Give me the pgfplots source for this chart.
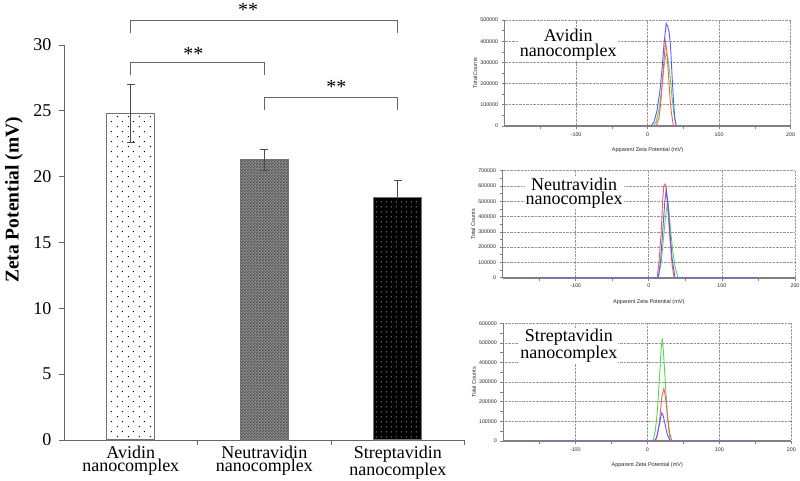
\documentclass[border=0pt]{standalone}
\usepackage{pgfplots}
\pgfplotsset{compat=1.18}
\usepackage{fontspec}
\setmainfont{Liberation Serif}
\newfontfamily\arial{Liberation Sans}
\usetikzlibrary{patterns}

\pgfdeclarepatternformonly{sparsedots}{\pgfqpoint{0pt}{0pt}}{\pgfqpoint{10.4pt}{10.4pt}}{\pgfqpoint{10.4pt}{10.4pt}}{%
 \pgfpathrectangle{\pgfqpoint{2pt}{2pt}}{\pgfqpoint{1.1pt}{1.1pt}}%
 \pgfpathrectangle{\pgfqpoint{7.2pt}{7.2pt}}{\pgfqpoint{1.1pt}{1.1pt}}%
 \pgfusepath{fill}}
\pgfdeclarepatternformonly{densedots}{\pgfqpoint{0pt}{0pt}}{\pgfqpoint{5.2pt}{5.2pt}}{\pgfqpoint{5.2pt}{5.2pt}}{%
 \pgfpathrectangle{\pgfqpoint{2pt}{2pt}}{\pgfqpoint{1.1pt}{1.1pt}}\pgfusepath{fill}}
\pgfdeclarepatternformonly{finecheck}{\pgfqpoint{0pt}{0pt}}{\pgfqpoint{2.8pt}{2.8pt}}{\pgfqpoint{2.8pt}{2.8pt}}{%
 \pgfpathrectangle{\pgfqpoint{0pt}{0pt}}{\pgfqpoint{1.4pt}{1.4pt}}%
 \pgfpathrectangle{\pgfqpoint{1.4pt}{1.4pt}}{\pgfqpoint{1.4pt}{1.4pt}}\pgfusepath{fill}}

\definecolor{cblue}{RGB}{90,90,255}
\definecolor{cred}{RGB}{255,90,90}
\definecolor{cgreen}{RGB}{80,220,80}
\definecolor{axgray}{RGB}{128,128,128}

\tikzset{inset/.style={font=\fontsize{18}{14.5}\selectfont, align=center, fill=white, inner sep=1pt}}

\pgfplotsset{
 small/.style={
  scale only axis, anchor=south west,
  xmin=-200, xmax=200, ymin=0,
  axis x line*=bottom, axis y line*=left,
  x axis line style={axgray, line width=1.6pt},
  y axis line style={axgray, line width=0.8pt},
  xtick={-100,0,100,200}, minor xtick={-150,-50,50,150},
  xmajorgrids, ymajorgrids,
  major grid style={densely dotted, gray!80, line width=0.6pt},
  tick style={axgray, line width=0.6pt},
  major tick length=3pt, minor tick length=3pt,
  tick align=outside,
  minor y tick num=1,
  ticklabel style={font=\arial\fontsize{5.3}{6}\selectfont, text=black!85},
  /pgf/number format/assume math mode=true,
  /pgf/number format/1000 sep={},
  scaled y ticks=false,
  yticklabel style={/pgf/number format/fixed},
  xlabel={Apparent Zeta Potential (mV)}, ylabel={Total Counts},
  label style={font=\arial\fontsize{5.5}{6}\selectfont, text=black!85},
  xlabel style={at={(axis description cs:0.5,0)}, yshift=-24pt, anchor=center},
  every axis plot/.append style={line width=0.9pt, mark=none},
 },
}

\begin{document}
\begin{tikzpicture}
\path[use as bounding box] (0pt,0pt) rectangle (800pt,480pt);

% ---------------- main bar chart ----------------
\begin{axis}[
 at={(64pt,40pt)}, anchor=south west, scale only axis,
 width=400.5pt, height=395pt,
 xmin=-0.5, xmax=2.5, ymin=0, ymax=30,
 axis x line*=bottom, axis y line*=left,
 axis line style={black!60, line width=0.8pt},
 tick style={black!60, line width=0.8pt},
 major tick length=5pt, tick align=outside,
 ytick={0,5,...,30},
 xtick={0.5,1.5,2.5}, xticklabels={},
 extra x ticks={0,1,2},
 extra x tick labels={{Avidin\\nanocomplex},{Neutravidin\\nanocomplex},{Streptavidin\\nanocomplex}},
 extra x tick style={major tick length=0pt},
 x tick label style={align=center, font=\fontsize{18}{13}\selectfont, yshift=-2pt},
 y tick label style={font=\fontsize{18}{18}\selectfont, xshift=-4pt},
 /pgf/number format/assume math mode=true,
 ylabel={Zeta Potential (mV)},
 ylabel style={font=\bfseries\fontsize{19.5}{20}\selectfont, at={(axis description cs:-0.1248,0.6076)}, anchor=center},
 clip=false,
]
% error bar of the black bar first (hidden behind it, as in the reference)
\addplot[draw=none, forget plot,
 error bars/.cd, y dir=both, y explicit,
 error bar style={black!70, line width=0.9pt},
 error mark options={rotate=90, black!70, mark size=4pt, line width=0.9pt}]
 table[x=x, y=y, y error=e] {
x y e
2 18.4 1.35
};
\addplot[ybar, bar width=48pt, bar shift=0pt, draw=black!55, line width=1.1pt,
 fill=white, postaction={pattern=sparsedots, pattern color=black}]
 table[x=x, y=y] {
x y
0 24.8
};
\addplot[ybar, bar width=48pt, bar shift=0pt, draw=black!55, line width=1.1pt,
 fill=black!42, postaction={pattern=finecheck, pattern color=black!72}]
 table[x=x, y=y] {
x y
1 21.3
};
\addplot[ybar, bar width=48pt, bar shift=0pt, draw=black!55, line width=1.1pt,
 fill=black, postaction={pattern=densedots, pattern color=white!85!black}]
 table[x=x, y=y] {
x y
2 18.4
};
\addplot[draw=none, forget plot,
 error bars/.cd, y dir=both, y explicit,
 error bar style={black!70, line width=0.9pt},
 error mark options={rotate=90, black!70, mark size=4pt, line width=0.9pt}]
 table[x=x, y=y, y error=e] {
x y e
0 24.8 2.2
1 21.3 0.8
};
% significance brackets
\draw[black!60, line width=0.8pt] (axis cs:0,27.7) -- (axis cs:0,28.7) -- (axis cs:1,28.7) -- (axis cs:1,27.7);
\draw[black!60, line width=0.8pt] (axis cs:1,25.06) -- (axis cs:1,26.02) -- (axis cs:2,26.02) -- (axis cs:2,25.06);
\draw[black!60, line width=0.8pt] (axis cs:0,30.88) -- (axis cs:0,31.84) -- (axis cs:2,31.84) -- (axis cs:2,30.88);
\node[anchor=base, font=\fontsize{20}{20}\selectfont, inner sep=0pt] at (axis cs:0.47,28.85) {**};
\node[anchor=base, font=\fontsize{20}{20}\selectfont, inner sep=0pt] at (axis cs:1.54,26.3) {**};
\node[anchor=base, font=\fontsize{20}{20}\selectfont, inner sep=0pt] at (axis cs:0.88,32.15) {**};
\end{axis}

% ---------------- inset 1: Avidin ----------------
\begin{axis}[small, at={(504.6pt,354pt)}, width=286pt, height=106pt,
 ymax=500000, ytick={0,100000,...,500000},
 ylabel style={at={(axis description cs:-0.103,0.5)}, anchor=center}]
\addplot[cgreen] coordinates {(-150,0)(8,0)(12,20000)(16,80000)(20,180000)(23,280000)(26,343000)(28,330000)(31,250000)(34,140000)(37,50000)(40,0)(150,0)};
\addplot[cred] coordinates {(-150,0)(12,0)(16,40000)(19,130000)(22,270000)(25,398000)(27,350000)(29,250000)(31,150000)(33,70000)(36,0)(150,0)};
\addplot[cblue] coordinates {(-150,0)(5,0)(9,20000)(13,70000)(17,160000)(20,260000)(23,390000)(26,484000)(28,470000)(30,445000)(32,380000)(34,250000)(36,130000)(38,40000)(40,0)(150,0)};
\node[inset] at (axis cs:-111,383000) {Avidin\\nanocomplex};
\end{axis}

% ---------------- inset 2: Neutravidin ----------------
\begin{axis}[small, at={(502.5pt,202.3pt)}, width=292.5pt, height=107pt,
 ymax=700000, ytick={0,100000,...,700000},
 ylabel style={at={(axis description cs:-0.1,0.5)}, anchor=center}]
\addplot[cgreen] coordinates {(-150,0)(13,0)(17,100000)(20,250000)(23,400000)(26,508000)(28,420000)(30,300000)(33,170000)(36,70000)(40,0)(150,0)};
\addplot[cred] coordinates {(-150,0)(11.5,0)(14,100000)(17,300000)(19,500000)(20.5,600000)(22,613000)(23.5,600000)(26,450000)(29,250000)(32,80000)(34.7,0)(150,0)};
\addplot[cblue] coordinates {(-150,0)(13,0)(16,100000)(19,300000)(22,500000)(24,578000)(26,500000)(29,300000)(32,120000)(36,0)(150,0)};
\node[inset] at (axis cs:-102,554000) {Neutravidin\\nanocomplex};
\end{axis}

% ---------------- inset 3: Streptavidin ----------------
\begin{axis}[small, at={(503.3pt,39pt)}, width=288pt, height=117.7pt,
 ymax=600000, ytick={0,100000,...,600000},
 ylabel style={at={(axis description cs:-0.102,0.5)}, anchor=center}]
\addplot[cgreen] coordinates {(-150,0)(8,0)(11,50000)(14,150000)(17,330000)(19,460000)(20.8,523000)(22.5,450000)(25,300000)(27.5,150000)(30,50000)(32,0)(150,0)};
\addplot[cred] coordinates {(-150,0)(11.5,0)(14,30000)(17,100000)(20,220000)(23,268000)(25,230000)(28,130000)(31,40000)(34,0)(150,0)};
\addplot[cblue] coordinates {(-150,0)(10,0)(13,20000)(16,70000)(18.5,120000)(20.3,144000)(22,130000)(25,80000)(28,30000)(32,0)(150,0)};
\node[inset] at (axis cs:-109,487000) {Streptavidin\\nanocomplex};
\end{axis}
\end{tikzpicture}
\end{document}
